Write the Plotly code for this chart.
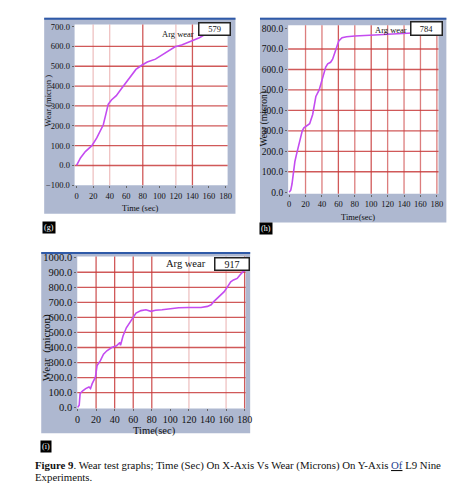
import plotly.graph_objects as go

# ---------------- data ----------------
t_g = [0, 4.7, 10.6, 18.5, 24.4, 28.3, 30.7, 32.3, 35.4, 38.2, 42.1, 48, 53.9, 59.8, 65.7, 71.7,
       78.7, 85.4, 95.3, 107, 119, 127, 138.6, 148.4, 154, 165, 180]
w_g = [0, 38, 70, 100, 139, 169, 193, 205, 259, 308, 330, 352, 385, 418, 456, 484,
       505, 521, 536, 566, 598, 607, 626, 644, 657, 675, 700]

t_h = [0, 2, 3.5, 5, 7, 9, 12.7, 16, 18, 21, 25, 28.7, 32.6, 36.6, 40.6, 44.6, 47, 50.5, 53,
       56.5, 60.5, 64.5, 70, 80, 90, 100, 110, 120, 130, 140, 150, 160, 170, 180]
w_h = [0, 10, 40, 100, 150, 185, 244, 300, 315, 322, 335, 380, 468, 500, 556, 612, 628, 635, 650,
       691, 739, 755, 760, 764, 767, 768, 770, 772, 773, 775, 778, 780, 782, 784]

t_i = [0, 1.8, 2.8, 5.3, 8.8, 12.3, 14, 15.8, 19.3, 20.4, 21, 24.6, 28, 31.6, 36.8, 42, 43.9,
       45.6, 46.3, 49, 52.6, 56, 60.3, 63, 68.4, 73.7, 79, 84, 91, 98, 109, 119, 133, 140,
       143.9, 147, 151, 154, 158, 161, 165, 168, 172, 175, 178, 180.7]
w_i = [2, 17, 94, 111, 127, 138, 127, 160, 203, 247, 280, 313, 356, 378, 400, 411, 422,
       433, 415, 476, 531, 564, 607, 629, 645, 651, 640, 647, 651, 658, 664, 666, 666, 673,
       684, 706, 732, 750, 771, 798, 837, 849, 859, 881, 902, 913]

x_ticks = [0, 20, 40, 60, 80, 100, 120, 140, 160, 180]
y_ticks_g = [-100, 0, 100, 200, 300, 400, 500, 600, 700]
y_ticks_h = [0, 100, 200, 300, 400, 500, 600, 700, 800]
y_ticks_i = [0, 100, 200, 300, 400, 500, 600, 700, 800, 900, 1000]

avg_g, avg_h, avg_i = "579", "784", "917"
panel_labels = ["(g)", "(h)", "(i)"]
caption_1 = ("<b>Figure 9</b>. Wear test graphs; Time (Sec) On X-Axis Vs Wear (Microns) "
             "On Y-Axis <u><span style='color:#1f3f8f'>Of</span></u> L9 Nine")
caption_2 = "Experiments."

# grid lines (strong / medium / faint) per panel
vgrid_g = [(20, 'f'), (40, 'f'), (80, 's'), (120, 'f'), (140, 's')]
hgrid_g = [0, 100, 200, 300, 400, 500, 600]
vgrid_h = [(20, 'm'), (40, 'm'), (60, 's'), (80, 'm'), (100, 's'), (120, 'm'), (140, 'm'), (160, 'm'), (180, 'm')]
hgrid_h = [100, 200, 300, 400, 500, 600, 700]
vgrid_i = [(20, 's'), (40, 's'), (60, 's'), (80, 's'), (120, 'f'), (160, 'f'), (180, 's')]
hgrid_i = [100, 200, 300, 400, 500, 600, 700, 800, 900]

# ---------------- styling ----------------
W, H = 472, 500
FONT = "Liberation Serif"
CURVE = "#c44cf0"
FRAME = "#aeb8d0"
TOPLINE = "#2f5aa8"
GRID = {'s': "rgba(200,60,60,0.85)", 'm': "rgba(205,70,70,0.7)", 'f': "rgba(220,120,120,0.45)"}

PLOT_G = (74, 230, 20, 184)
PLOT_H = (291.7, 445, 20.7, 192.7)
PLOT_I = (76.7, 248.3, 256.7, 411.7)


def px(x):
    return x / W


def py(y):
    return 1 - y / H


fig = go.Figure()
for t, w, xa, ya in [(t_g, w_g, 'x', 'y'), (t_h, w_h, 'x2', 'y2'), (t_i, w_i, 'x3', 'y3')]:
    fig.add_trace(go.Scatter(x=t, y=w, mode='lines', xaxis=xa, yaxis=ya,
                             line=dict(color=CURVE, width=1.6),
                             showlegend=False, hoverinfo='skip'))

shapes = []
# frames
for (x0, x1, y0, y1) in [(43, 238, 13, 213), (263, 453, 13, 222), (40, 253, 252, 437)]:
    shapes.append(dict(type='rect', xref='paper', yref='paper', layer='below',
                       x0=px(x0), x1=px(x1), y0=py(y1), y1=py(y0),
                       fillcolor=FRAME, line=dict(width=0)))
    shapes.append(dict(type='line', xref='paper', yref='paper', layer='below',
                       x0=px(x0), x1=px(x1), y0=py(y0 + 1), y1=py(y0 + 1),
                       line=dict(color=TOPLINE, width=2)))
# white plot areas
for (x0, x1, y0, y1) in [PLOT_G, PLOT_H, PLOT_I]:
    shapes.append(dict(type='rect', xref='paper', yref='paper', layer='below',
                       x0=px(x0), x1=px(x1), y0=py(y1), y1=py(y0),
                       fillcolor='white', line=dict(width=0)))


def add_grid(xa, ya, vg, hg):
    for v, s in vg:
        shapes.append(dict(type='line', xref=xa, yref=ya + ' domain', layer='below',
                           x0=v, x1=v, y0=0, y1=1, line=dict(color=GRID[s], width=1.3)))
    for h in hg:
        shapes.append(dict(type='line', xref=xa + ' domain', yref=ya, layer='below',
                           x0=0, x1=1, y0=h, y1=h, line=dict(color=GRID['s'], width=1.3)))


add_grid('x', 'y', vgrid_g, hgrid_g)
add_grid('x2', 'y2', vgrid_h, hgrid_h)
add_grid('x3', 'y3', vgrid_i, hgrid_i)

ann = []


def text(x, y, s, size, angle=0, xanchor='center', color='#111', **kw):
    ann.append(dict(x=px(x), y=py(y), xref='paper', yref='paper', text=s, showarrow=False,
                    textangle=angle, xanchor=xanchor, yanchor='middle',
                    font=dict(family=FONT, size=size, color=color), **kw))


# axis titles
text(46.5, 98, "Wear (micron )", 8.5, angle=-90)
text(141, 207, "Time (sec)", 8.5)
text(268, 116, "Wear (micron)", 9.5, angle=-90)
text(363, 216, "Time(sec)", 8.5)
text(45, 350, "Wear  (micron)", 11, angle=-90)
text(155, 434.5, "Time(sec)", 10.5)

# "Arg wear" labels and value boxes
text(198, 30, "Arg wear", 8.5, xanchor='right')
text(415, 25.5, "Arg wear", 8.5, xanchor='right')
text(210, 264, "Arg wear", 10.5, xanchor='right')
for (cx, cy, w_, h_, v, fs) in [(216.5, 24.5, 30, 11, avg_g, 8.5), (433, 24.3, 30, 12, avg_h, 8.5),
                                (234, 264, 33, 11, avg_i, 10)]:
    ann.append(dict(x=px(cx), y=py(cy), xref='paper', yref='paper', text=v, showarrow=False,
                    xanchor='center', yanchor='middle', bgcolor='white', bordercolor='#222',
                    borderwidth=1.5, borderpad=0, width=w_, height=h_,
                    font=dict(family=FONT, size=fs, color='#111')))

# panel labels (black boxes)
for (cx, cy, s) in [(47.5, 227.5, panel_labels[0]), (269, 228, panel_labels[1]), (44.5, 451, panel_labels[2])]:
    ann.append(dict(x=px(cx), y=py(cy), xref='paper', yref='paper', text=s, showarrow=False,
                    xanchor='center', yanchor='middle', bgcolor='black', borderpad=1,
                    font=dict(family=FONT, size=8, color='white')))

# caption
text(32, 470, caption_1, 10.8, xanchor='left')
text(32, 481.5, caption_2, 10.8, xanchor='left')


def xax(dom, rng, fs):
    return dict(domain=[px(dom[0]), px(dom[1])], range=rng, tickvals=x_ticks, showgrid=False,
                zeroline=False, showline=False, ticks='outside', ticklen=2, tickcolor='#666',
                tickfont=dict(family=FONT, size=fs, color='#111'), fixedrange=True)


def yax(dom, rng, tv, fs):
    return dict(domain=[py(dom[3]), py(dom[2])], range=rng, tickvals=tv, tickformat='.1f',
                showgrid=False, zeroline=False, showline=False, ticks='outside', ticklen=2,
                tickcolor='#666', tickfont=dict(family=FONT, size=fs, color='#111'), fixedrange=True)


fig.update_layout(
    width=W, height=H, margin=dict(l=0, r=0, t=0, b=0),
    paper_bgcolor='white', plot_bgcolor='rgba(0,0,0,0)',
    font=dict(family=FONT),
    xaxis=dict(**xax(PLOT_G, [-2.4, 182.5], 8.5), anchor='y'),
    yaxis=dict(**yax(PLOT_G, [-100, 710], y_ticks_g, 8.5), anchor='x'),
    xaxis2=dict(**xax(PLOT_H, [-1.2, 182], 8.5), anchor='y2'),
    yaxis2=dict(**yax(PLOT_H, [-8, 816], y_ticks_h, 9.5), anchor='x2'),
    xaxis3=dict(**xax(PLOT_I, [-0.3, 181], 10), anchor='y3'),
    yaxis3=dict(**yax(PLOT_I, [-5, 1004], y_ticks_i, 10.5), anchor='x3'),
    shapes=shapes, annotations=ann,
)

fig.write_html("out.html")
